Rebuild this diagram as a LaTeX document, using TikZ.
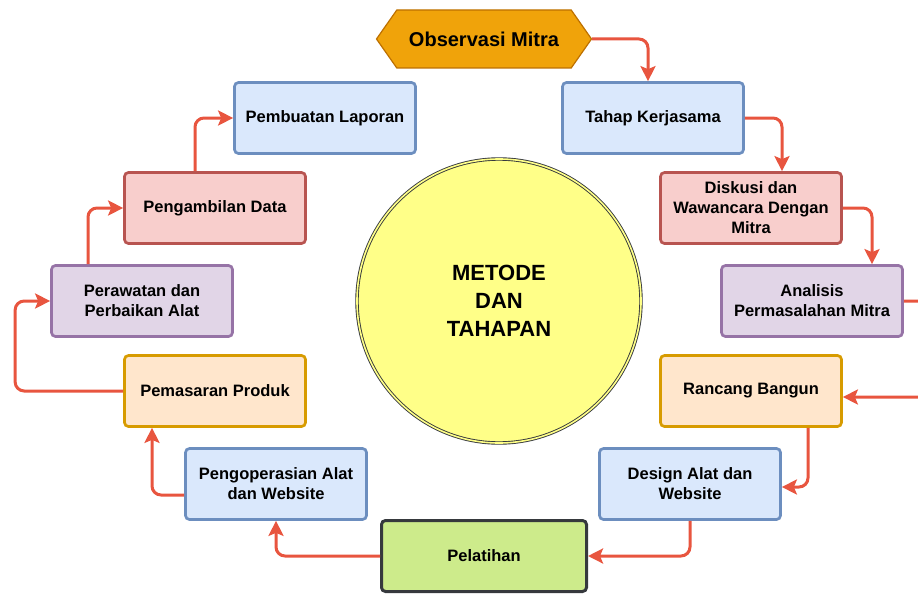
\documentclass[tikz,border=0pt]{standalone}
\usepackage{fontspec}
\setmainfont{Liberation Sans}
\usetikzlibrary{arrows.meta, shapes.symbols, calc}

\definecolor{blueFill}{HTML}{DAE8FC}
\definecolor{blueLine}{HTML}{6C8EBF}
\definecolor{redFill}{HTML}{F8CECC}
\definecolor{redLine}{HTML}{B85450}
\definecolor{purpleFill}{HTML}{E1D5E7}
\definecolor{purpleLine}{HTML}{9673A6}
\definecolor{orangeFill}{HTML}{FFE6CC}
\definecolor{orangeLine}{HTML}{D79B00}
\definecolor{greenFill}{HTML}{CDEB8B}
\definecolor{darkLine}{HTML}{36393D}
\definecolor{hexFill}{HTML}{F0A30A}
\definecolor{hexLine}{HTML}{BD7000}
\definecolor{circFill}{HTML}{FFFF88}
\definecolor{arrowRed}{HTML}{E8553F}

\begin{document}
\begin{tikzpicture}[x=1pt, y=-1pt, >={Stealth[length=15pt,width=15pt,inset=3pt]},
    box/.style={draw, rounded corners=4pt, line width=2.7pt, minimum width=181pt,
      minimum height=71pt, align=center, inner sep=2pt,
      font=\fontsize{16.5}{20}\selectfont\bfseries},
    bluebox/.style={box, draw=blueLine, fill=blueFill},
    redbox/.style={box, draw=redLine, fill=redFill},
    purplebox/.style={box, draw=purpleLine, fill=purpleFill},
    orangebox/.style={box, draw=orangeLine, fill=orangeFill},
    greenbox/.style={box, draw=darkLine, fill=greenFill, line width=3pt, minimum width=205pt},
    flow/.style={->, draw=arrowRed, line width=3pt, rounded corners=9pt}]

    % Fix the frame
    \useasboundingbox (0,0) rectangle (918,594);

    % Centre circle
    \node[circle, draw=darkLine, double=circFill, double distance=1.6pt, line width=0.9pt,
      fill=circFill, minimum size=284pt, align=center,
      font=\fontsize{22}{28}\selectfont\bfseries] (pusat) at (499,301) {METODE\\DAN\\TAHAPAN};

    % Start node
    \node[signal, signal to=west and east, signal pointer angle=110, draw=hexLine,
      line width=1.2pt, fill=hexFill, minimum width=215pt, minimum height=58pt,
      font=\fontsize{20}{24}\selectfont\bfseries] (obs) at (484,39) {Observasi Mitra};

    % Right side
    \node[bluebox] (tahap) at (653,118) {Tahap Kerjasama};
    \node[redbox] (diskusi) at (751,208) {Diskusi dan\\Wawancara Dengan\\Mitra};
    \node[purplebox] (analisis) at (812,301) {Analisis\\Permasalahan Mitra};
    \node[orangebox] (rancang) at (751,391) {Rancang Bangun};
    \node[bluebox] (design) at (690,484) {Design Alat dan\\Website};

    % Bottom
    \node[greenbox] (latih) at (484,556) {Pelatihan};

    % Left side
    \node[bluebox] (operasi) at (276,484) {Pengoperasian Alat\\dan Website};
    \node[orangebox] (pasar) at (215,391) {Pemasaran Produk};
    \node[purplebox] (rawat) at (142,301) {Perawatan dan\\Perbaikan Alat};
    \node[redbox] (ambil) at (215,208) {Pengambilan Data};
    \node[bluebox] (laporan) at (325,118) {Pembuatan Laporan};

    % Draw the flow
    \draw[flow] (obs.east) -| ([xshift=-5pt]tahap.north);
    \draw[flow] (tahap.east) -| ([xshift=31pt]diskusi.north);
    \draw[flow] (diskusi.east) -| ([xshift=60pt]analisis.north);
    \draw[flow] (analisis.east) -- ++(30,0) |- ([yshift=-6pt]rancang.east);
    \draw[flow] ([xshift=57pt]rancang.south) |- ([yshift=-3pt]design.east);
    \draw[flow] (design.south) |- (latih.east);
    \draw[flow] (latih.west) -| (operasi.south);
    \draw[flow] ([yshift=-11pt]operasi.west) -| ([xshift=-63pt]pasar.south);
    \draw[flow] (pasar.west) -| ([xshift=-35pt]rawat.west) -- (rawat.west);
    \draw[flow] ([xshift=-54pt]rawat.north) |- (ambil.west);
    \draw[flow] ([xshift=-20pt]ambil.north) |- (laporan.west);
\end{tikzpicture}
\end{document}
